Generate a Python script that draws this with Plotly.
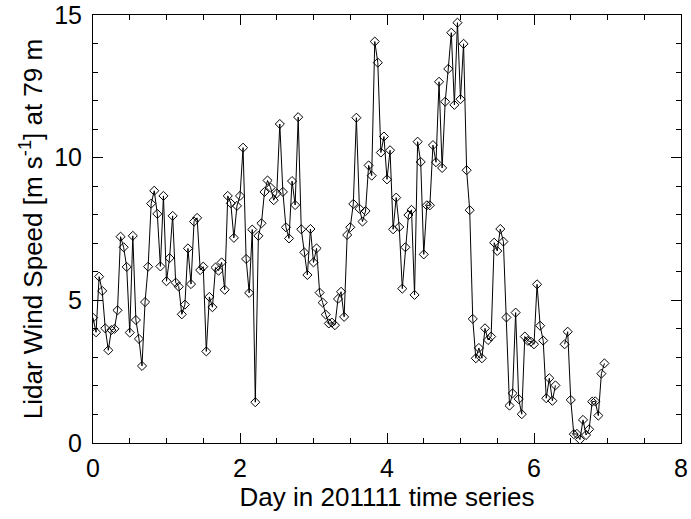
import plotly.graph_objects as go

# Hourly lidar wind speed (m/s); None marks missing hours
wind_speed = [
    4.39, 3.88, 5.83, 5.33, 4.02, 3.25, 3.96, 4.00, 4.65, 7.23,
    6.86, 6.17, 3.87, 7.26, 4.31, 3.65, 2.70, 4.94, 6.18, 8.39,
    8.84, 8.03, 6.19, 8.66, 5.67, 6.48, 7.96, 5.62, 5.48, 4.51,
    4.85, 6.82, 5.57, 7.76, 7.89, 6.06, 6.18, 3.21, 5.12, 4.76,
    6.15, 6.04, 6.33, 5.37, 8.66, 8.40, 7.19, 8.31, 8.66, 10.35,
    6.45, 5.26, 7.48, 1.43, 7.26, 7.70, 8.80, 9.20, 8.95, 8.51,
    8.75, 11.18, 8.80, 7.56, 7.17, 9.18, 8.34, 11.42, 7.49, 6.68,
    5.89, 7.50, 6.33, 6.82, 5.27, 4.92, 4.50, 4.19, 4.22, 4.13,
    5.05, 5.30, 4.42, 7.29, 7.56, 8.38, 11.40, 8.21, 7.76, 8.13,
    9.73, 9.37, 14.07, 13.33, 10.18, 10.74, 9.24, 10.26, 7.49, 8.60,
    7.57, 5.41, 6.86, 7.99, 8.17, 5.19, 10.56, 9.85, 6.61, 8.33,
    8.33, 10.44, 9.84, 12.66, 9.64, 11.96, 13.11, 14.38, 11.85, 14.73,
    12.05, 13.99, 9.56, 8.16, 4.35, 2.97, 3.33, 2.97, 4.02, 3.61,
    3.73, 7.02, 6.73, 7.50, 7.06, 4.40, 1.31, 1.74, 4.57, 1.54,
    1.01, 3.73, 3.58, 3.55, 3.46, 5.56, 4.11, 3.59, 1.57, 2.27,
    1.48, 2.02, None, None, 3.46, 3.90, 1.51, 0.31, 0.32, 0.12,
    0.81, 0.28, 0.48, 1.45, 1.46, 0.96, 2.43, 2.79,
]
hours = list(range(len(wind_speed)))
days = [h / 24.0 for h in hours]

x_title = "Day in 201111 time series"
y_title = "Lidar Wind Speed [m s<sup>-1</sup>] at 79 m"

font_family = "Liberation Sans, Arial, Helvetica, sans-serif"

fig = go.Figure()
fig.add_trace(go.Scatter(
    x=days, y=wind_speed, mode="lines+markers",
    connectgaps=False,
    line=dict(color="black", width=1),
    marker=dict(symbol="diamond-open", size=7, color="black",
                line=dict(color="black", width=1)),
    showlegend=False,
))

axis_common = dict(
    showline=True, linecolor="black", linewidth=1, mirror="allticks",
    ticks="inside", tickcolor="black", tickwidth=1,
    showgrid=False, zeroline=False, automargin=False,
    ticklabeloverflow="allow",
    tickfont=dict(family=font_family, size=25, color="black"),
)

fig.update_xaxes(
    range=[0, 8], dtick=2, tick0=0, ticklen=10,
    minor=dict(dtick=0.5, ticks="inside", ticklen=5, tickcolor="black", showgrid=False),
    title=dict(text=x_title, font=dict(family=font_family, size=26, color="black"), standoff=0),
    ticklabelstandoff=3,
    **axis_common,
)
fig.update_yaxes(
    range=[0, 15], dtick=5, tick0=0, ticklen=10,
    minor=dict(dtick=1, ticks="inside", ticklen=5, tickcolor="black", showgrid=False),
    title=dict(text=y_title, font=dict(family=font_family, size=26, color="black"), standoff=4),
    ticklabelstandoff=5,
    **axis_common,
)

fig.update_layout(
    width=691, height=519,
    margin=dict(l=93, r=10, t=15, b=76),
    plot_bgcolor="white", paper_bgcolor="white",
    font=dict(family=font_family, color="black"),
)

fig.write_html("out.html", config={"displayModeBar": False},
               post_script="document.body.style.margin='0';document.body.style.overflow='hidden';")
